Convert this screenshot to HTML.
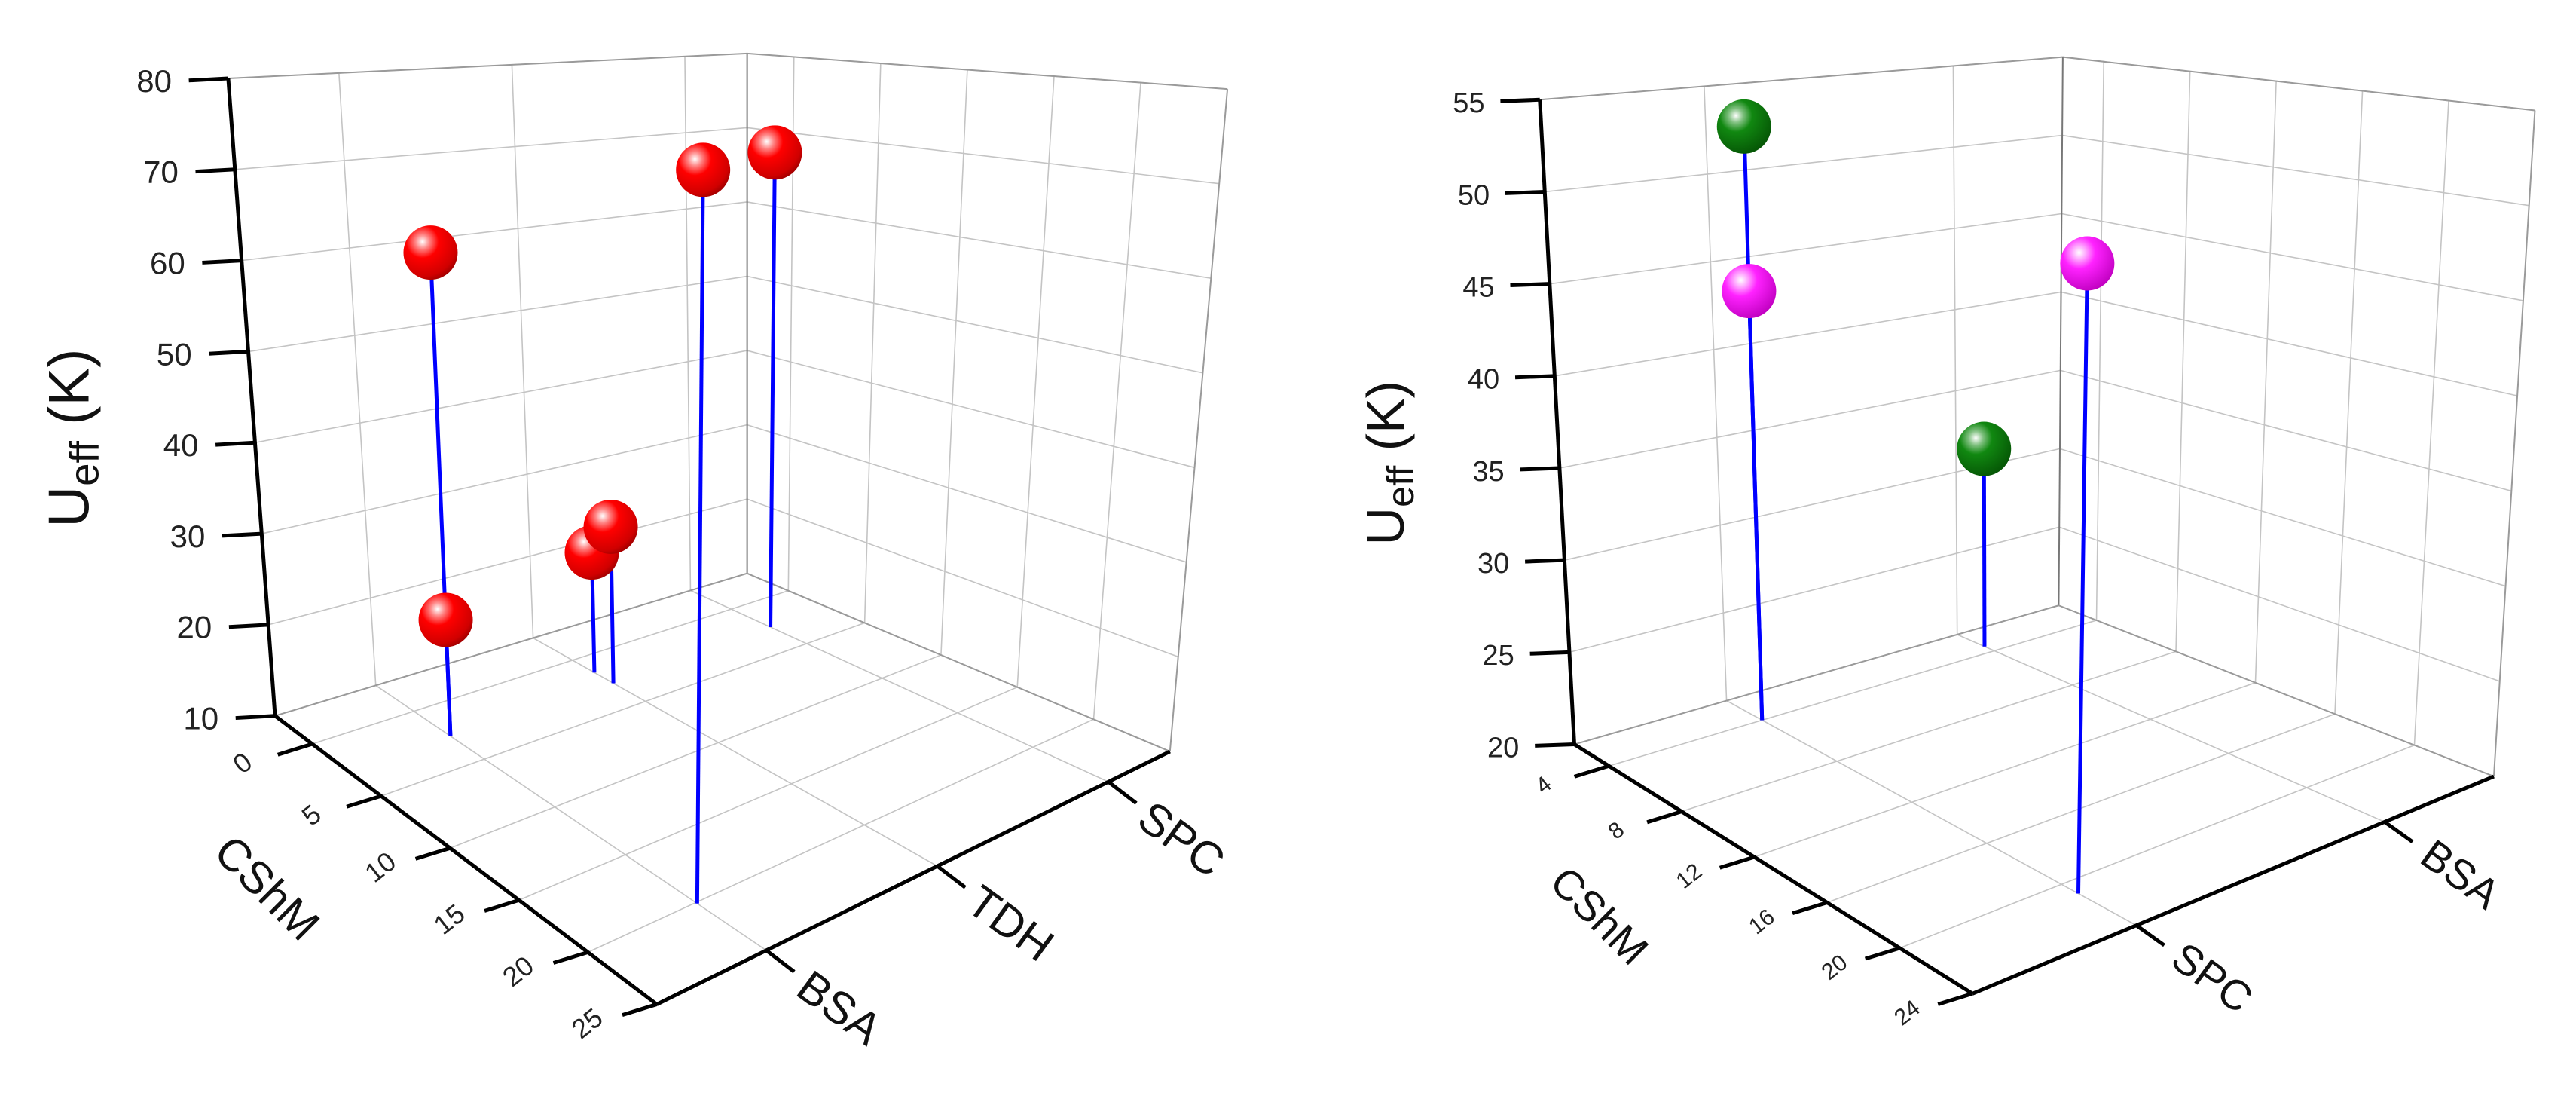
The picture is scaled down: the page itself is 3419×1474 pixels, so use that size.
<!DOCTYPE html>
<html><head><meta charset="utf-8"><style>
html,body{margin:0;padding:0;background:#fff;}
svg{display:block;font-family:"Liberation Sans",Arial,sans-serif;}
</style></head><body>
<svg id="fig" width="3419" height="1474" viewBox="0 0 3419 1474" xmlns="http://www.w3.org/2000/svg">
<defs>
<radialGradient id="gRed" cx="0.35" cy="0.3" r="0.75"><stop offset="0" stop-color="#fff"/><stop offset="0.18" stop-color="#ff8080"/><stop offset="0.4" stop-color="#ff0000"/><stop offset="0.85" stop-color="#d00000"/><stop offset="1" stop-color="#a00000"/></radialGradient>
<radialGradient id="gGreen" cx="0.35" cy="0.3" r="0.75"><stop offset="0" stop-color="#fff"/><stop offset="0.18" stop-color="#7fc07f"/><stop offset="0.4" stop-color="#118811"/><stop offset="1" stop-color="#055505"/></radialGradient>
<radialGradient id="gMag" cx="0.35" cy="0.3" r="0.75"><stop offset="0" stop-color="#fff"/><stop offset="0.18" stop-color="#ff9fff"/><stop offset="0.4" stop-color="#ff22ff"/><stop offset="1" stop-color="#c000c0"/></radialGradient>
</defs>
<g id="left"></g>
<g id="right" transform="translate(1719,0)"></g>
</svg>
<script>
// ---- Left chart data ----
const leftCategories = ["BSA", "TDH", "SPC"];
const leftCshmTicks = [0, 5, 10, 15, 20, 25];
const leftUeffTicks = [10, 20, 30, 40, 50, 60, 70, 80];
const leftCshm = [2.6, 2.6, 1.5, 2.8, 20.1, 2.6];
const leftCat = [0, 0, 1, 1, 0, 2];
const leftUeff = [62, 22.5, 24, 28, 76, 69];

// ---- Right chart data ----
const rightCategories = ["SPC", "BSA"];
const rightCshmTicks = [4, 8, 12, 16, 20, 24];
const rightUeffTicks = [20, 25, 30, 35, 40, 45, 50, 55];
const greenCshm = [4, 3.5];
const greenCat = [0, 1];
const greenUeff = [53.2, 32];
const magentaCshm = [4, 20.9];
const magentaCat = [0, 0];
const magentaUeff = [44, 50.3];

const NS = "http://www.w3.org/2000/svg";
const SX = 1.0897, SY = 0.945;
function el(tag, attrs, parent) {
  const e = document.createElementNS(NS, tag);
  for (const k in attrs) e.setAttribute(k, attrs[k]);
  parent.appendChild(e);
  return e;
}

function makeChart(g, C) {
  const wts = (a, b) => [(1 - a) * (1 - b), a * (1 - b), a * b, (1 - a) * b];
  const P = [C.L, C.F, C.R, C.B], O = [C.oL, C.oF, C.oR, C.oB];
  function proj(a, b, h) {
    const w = wts(a, b);
    let x = 0, y = 0;
    for (let i = 0; i < 4; i++) { x += w[i] * (P[i][0] + h * O[i][0]); y += w[i] * (P[i][1] + h * O[i][1]); }
    return [x * SX, y * SY];
  }
  const off = (p, d) => [p[0] + d[0] * SX, p[1] + d[1] * SY];
  const sA = v => (v - C.aDom[0]) / (C.aDom[1] - C.aDom[0]);
  const sH = v => (v - C.hDom[0]) / (C.hDom[1] - C.hDom[0]);
  const sB = i => C.catV(i);
  function line(p, q, stroke, sw, parent) {
    return el("line", { x1: p[0], y1: p[1], x2: q[0], y2: q[1], stroke: stroke, "stroke-width": sw }, parent || g);
  }
  const grid = el("g", {}, g);
  
  
  const gc = "#c4c4c4";
  C.cats.forEach((c, i) => line(proj(0, sB(i), 0), proj(0, sB(i), 1), gc, 1.6, grid));
  C.hTicks.forEach(t => { const h = sH(t); line(proj(0, 0, h), proj(0, 1, h), gc, 1.6, grid); });
  C.aTicks.forEach(t => { const a = sA(t); if (a > 0.01 && a < 0.99) line(proj(a, 1, 0), proj(a, 1, 1), gc, 1.6, grid); });
  C.hTicks.forEach(t => { const h = sH(t); line(proj(0, 1, h), proj(1, 1, h), gc, 1.6, grid); });
  C.aTicks.forEach(t => { const a = sA(t); line(proj(a, 0, 0), proj(a, 1, 0), gc, 1.6, grid); });
  C.cats.forEach((c, i) => line(proj(0, sB(i), 0), proj(1, sB(i), 0), gc, 1.6, grid));
  const ec = "#9a9a9a";
  line(proj(0, 0, 1), proj(0, 1, 1), ec, 2, grid);
  line(proj(0, 1, 1), proj(1, 1, 1), ec, 2, grid);
  line(proj(0, 1, 0), proj(0, 1, 1), "#777", 2, grid);
  line(proj(1, 1, 0), proj(1, 1, 1), ec, 2, grid);
  line(proj(0, 1, 0), proj(1, 1, 0), ec, 2, grid);
  line(proj(0, 0, 0), proj(0, 1, 0), ec, 2, grid);

  const ax = el("g", {}, g);
  
  
  line(proj(0, 0, 0), proj(0, 0, 1), "#000", 5, ax);
  line(proj(0, 0, 0), proj(1, 0, 0), "#000", 5, ax);
  line(proj(1, 0, 0), proj(1, 1, 0), "#000", 5, ax);

  C.hTicks.forEach(t => {
    const p = proj(0, 0, sH(t));
    const q = off(p, C.zTick);
    line(p, q, "#000", 5, ax);
    const tx = el("text", { x: q[0] - C.zLabOff, y: q[1] + 15, "font-size": C.zFont, "text-anchor": "middle", fill: "#222" }, ax);
    
    
    tx.textContent = t;
  });
  C.aTicks.forEach(t => {
    const p = proj(sA(t), 0, 0);
    const q = off(p, C.xTick);
    line(p, q, "#000", 5, ax);
    const l = off(q, C.xLab);
    const tx = el("text", { x: l[0], y: l[1], "font-size": C.xFont, "text-anchor": "middle", fill: "#222", transform: `rotate(-38 ${l[0]} ${l[1]})` }, ax);
    
    
    tx.textContent = t;
  });
  C.cats.forEach((c, i) => {
    const p = proj(1, sB(i), 0);
    const q = off(p, C.cTick);
    line(p, q, "#000", 5, ax);
    const l = off(q, C.cLab);
    const tx = el("text", { x: l[0], y: l[1], "font-size": C.cFont, "text-anchor": "middle", fill: "#111", transform: `rotate(36 ${l[0]} ${l[1]})` }, ax);
    
    
    tx.textContent = c;
  });
  const ct = [C.cshmTitle[0] * SX, C.cshmTitle[1] * SY];
  const t1 = el("text", { x: ct[0], y: ct[1], "font-size": C.cFont, "text-anchor": "middle", fill: "#111", transform: `rotate(45 ${ct[0]} ${ct[1]})` }, ax);
  
  
  t1.textContent = "CShM";
  const zt = [C.zTitle[0] * SX, C.zTitle[1] * SY];
  const t2 = el("text", { x: zt[0], y: zt[1], "font-size": C.zTitleFont, "text-anchor": "middle", fill: "#111", transform: `rotate(-90 ${zt[0]} ${zt[1]})` }, ax);
  
  
  t2.appendChild(document.createTextNode("U"));
  const sub = el("tspan", { "font-size": C.zTitleFont * 0.72, dy: 13 }, t2);
  sub.textContent = "eff";
  const rest = el("tspan", { dy: -13 }, t2);
  rest.textContent = " (K)";

  const pts = [];
  C.series.forEach(s => {
    s.cshm.forEach((v, i) => pts.push({ a: sA(v), b: sB(s.cat[i]), h: sH(s.u[i]), fill: s.fill, name: s.name }));
  });
  const stems = el("g", {}, g);
  
  
  pts.forEach(p => {
    const st = line(proj(p.a, p.b, 0), proj(p.a, p.b, p.h), "#0000ff", 5, stems);
    
    
  });
  pts.sort((m, n) => proj(m.a, m.b, 0)[1] - proj(n.a, n.b, 0)[1]);
  pts.forEach(p => {
    const c = proj(p.a, p.b, p.h);
    const ball = el("circle", { cx: c[0], cy: c[1], r: 36, fill: `url(#${p.fill})` }, g);
    
    
  });
}

makeChart(document.getElementById("left"), {
  L: [335, 1005], F: [800, 1410], R: [1425, 1055], B: [910, 805],
  oL: [-57, -895], oF: [5, -1200], oR: [70, -930], oB: [0, -730],
  aDom: [-2.7, 25], hDom: [10, 80],
  catV: i => (i + 0.64) / 3.0,
  cats: leftCategories, aTicks: leftCshmTicks, hTicks: leftUeffTicks,
  zTick: [-48, 3], zLabOff: 46, zFont: 42,
  xTick: [-42, 15], xLab: [-36, 22], xFont: 36,
  cTick: [34, 30], cLab: [44, 68], cFont: 60,
  cshmTitle: [312, 1262], zTitle: [108, 615], zTitleFont: 76,
  series: [{ cshm: leftCshm, cat: leftCat, u: leftUeff, fill: "gRed", name: "red-data-point" }]
});

makeChart(document.getElementById("right"), {
  L: [340, 1045], F: [825, 1395], R: [1460, 1090], B: [930, 850],
  oL: [-42, -905], oF: [5, -1100], oR: [50, -935], oB: [5, -770],
  aDom: [2.1, 24], hDom: [20, 55],
  catV: i => (i + 0.66) / 2.1,
  cats: rightCategories, aTicks: rightCshmTicks, hTicks: rightUeffTicks,
  zTick: [-48, 2], zLabOff: 42, zFont: 38,
  xTick: [-42, 15], xLab: [-32, 20], xFont: 30,
  cTick: [34, 28], cLab: [48, 62], cFont: 56,
  cshmTitle: [358, 1300], zTitle: [132, 650], zTitleFont: 70,
  series: [
    { cshm: greenCshm, cat: greenCat, u: greenUeff, fill: "gGreen", name: "green-data-point" },
    { cshm: magentaCshm, cat: magentaCat, u: magentaUeff, fill: "gMag", name: "magenta-data-point" }
  ]
});
</script>
</body></html>
